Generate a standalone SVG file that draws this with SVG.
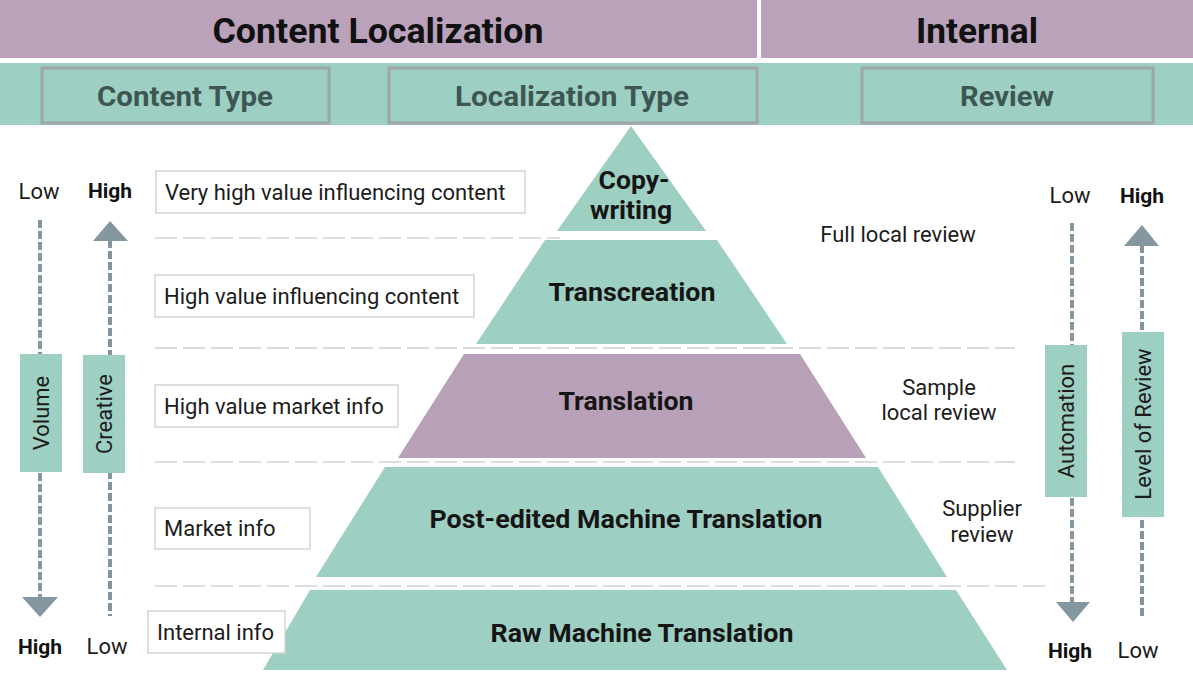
<svg xmlns="http://www.w3.org/2000/svg" width="1193" height="675" viewBox="0 0 1193 675">
<style>
.hdr{fill:#bba2bb}
.band{fill:#9dcfc2}
.hbox{fill:#9dcfc2;stroke:#9ea6a8;stroke-width:3}
.t1{font-family:Roboto,"Liberation Sans",sans-serif;font-weight:bold;font-size:35px;fill:#111;text-anchor:middle}
.t2{font-family:Roboto,"Liberation Sans",sans-serif;font-weight:bold;font-size:28px;fill:#3e5652;text-anchor:middle}
.teal{fill:#9dcfc2}
.purp{fill:#b9a0b9}
.pl{font-family:Roboto,"Liberation Sans",sans-serif;font-weight:bold;font-size:26.5px;fill:#151515;text-anchor:middle}
.lb{fill:#fff;stroke:#d4d4d4;stroke-width:1.5}
.lt{font-family:Roboto,"Liberation Sans",sans-serif;font-size:22px;fill:#1c1c1c}
.rt{font-family:Roboto,"Liberation Sans",sans-serif;font-size:22px;fill:#1c1c1c;text-anchor:middle}
.lh{font-family:Roboto,"Liberation Sans",sans-serif;font-size:22px;fill:#1c1c1c;text-anchor:middle}
.lhb{font-family:Roboto,"Liberation Sans",sans-serif;font-size:21px;font-weight:bold;fill:#111;text-anchor:middle}
.sep{stroke:#dcdcdc;stroke-width:2;stroke-dasharray:22 6;fill:none}
.axis{stroke:#8497a0;stroke-width:4;stroke-dasharray:8 3;fill:none}
.head{fill:#8497a0}
.vbox{fill:#9dcfc2}
.vt{font-family:Roboto,"Liberation Sans",sans-serif;font-size:22px;fill:#1c1c1c;text-anchor:middle}
</style>

<g id="header">
  <rect class="hdr" x="0" y="0" width="757" height="58"/>
  <rect class="hdr" x="761" y="0" width="432" height="58"/>
  <text class="t1" x="378" y="43" textLength="331" lengthAdjust="spacingAndGlyphs">Content Localization</text>
  <text class="t1" x="977" y="43" textLength="122" lengthAdjust="spacingAndGlyphs">Internal</text>
  <rect class="band" x="0" y="63" width="1193" height="62"/>
  <rect class="hbox" x="42" y="68" width="287" height="55"/>
  <rect class="hbox" x="389" y="68" width="368" height="55"/>
  <rect class="hbox" x="862" y="68" width="291" height="55"/>
  <text class="t2" x="185" y="106" textLength="176" lengthAdjust="spacingAndGlyphs">Content Type</text>
  <text class="t2" x="572" y="106" textLength="234" lengthAdjust="spacingAndGlyphs">Localization Type</text>
  <text class="t2" x="1007" y="106" textLength="94" lengthAdjust="spacingAndGlyphs">Review</text>
</g>

<g id="separators">
  <line class="sep" x1="155" y1="238" x2="560" y2="238"/>
  <line class="sep" x1="155" y1="348" x2="1015" y2="348"/>
  <line class="sep" x1="155" y1="462" x2="1015" y2="462"/>
  <line class="sep" x1="155" y1="586" x2="1050" y2="586"/>
</g>

<g id="copywriting">
  <polygon class="teal" points="631,126 706,231 557,231"/>
  <text class="pl" x="634" y="189">Copy-</text>
  <text class="pl" x="631" y="219">writing</text>
</g>
<g id="transcreation">
  <polygon class="teal" points="545,240 717,240 787,344 476,344"/>
  <text class="pl" x="632" y="301" textLength="167" lengthAdjust="spacingAndGlyphs">Transcreation</text>
</g>
<g id="translation">
  <polygon class="purp" points="464,354 800,354 866,458 398,458"/>
  <text class="pl" x="626" y="410" textLength="135" lengthAdjust="spacingAndGlyphs">Translation</text>
</g>
<g id="pemt">
  <polygon class="teal" points="385,467 878,467 947,577 316,577"/>
  <text class="pl" x="626" y="528" textLength="393" lengthAdjust="spacingAndGlyphs">Post-edited Machine Translation</text>
</g>
<g id="rawmt">
  <polygon class="teal" points="310,590 956,590 1007,670 263,670"/>
  <text class="pl" x="642" y="642" textLength="303" lengthAdjust="spacingAndGlyphs">Raw Machine Translation</text>
</g>

<g id="content-types">
  <rect class="lb" x="156" y="171" width="369" height="42"/>
  <text class="lt" x="165" y="200">Very high value influencing content</text>
  <rect class="lb" x="155" y="275" width="319" height="42"/>
  <text class="lt" x="164" y="304">High value influencing content</text>
  <rect class="lb" x="155" y="385" width="243" height="42"/>
  <text class="lt" x="164" y="414">High value market info</text>
  <rect class="lb" x="155" y="508" width="155" height="41"/>
  <text class="lt" x="164" y="536">Market info</text>
  <rect class="lb" x="148" y="611" width="137" height="42"/>
  <text class="lt" x="157" y="640">Internal info</text>
</g>

<g id="review-labels">
  <text class="rt" x="898" y="242">Full local review</text>
  <text class="rt" x="939" y="395">Sample</text>
  <text class="rt" x="939" y="420">local review</text>
  <text class="rt" x="982" y="516">Supplier</text>
  <text class="rt" x="982" y="542">review</text>
</g>

<g id="connectors">
  <line class="axis" x1="40" y1="220" x2="40" y2="598"/>
  <polygon class="head" points="22,597 58,597 40,617"/>
  <line class="axis" x1="110" y1="240" x2="110" y2="616"/>
  <polygon class="head" points="93,241 128,241 110,221"/>
  <line class="axis" x1="1072" y1="223" x2="1072" y2="603"/>
  <polygon class="head" points="1056,602 1090,602 1073,622"/>
  <line class="axis" x1="1142" y1="245" x2="1142" y2="618"/>
  <polygon class="head" points="1124,246 1159,246 1142,225"/>
</g>

<g id="volume">
  <text class="lh" x="39" y="199">Low</text>
  <rect class="vbox" x="20" y="354" width="42" height="118"/>
  <text class="vt" transform="translate(49,413) rotate(-90)" font-size="21">Volume</text>
  <text class="lhb" x="40" y="654">High</text>
</g>
<g id="creative">
  <text class="lhb" x="110" y="198">High</text>
  <rect class="vbox" x="83" y="355" width="42" height="118"/>
  <text class="vt" transform="translate(112,414) rotate(-90)">Creative</text>
  <text class="lh" x="107" y="654">Low</text>
</g>
<g id="automation">
  <text class="lh" x="1070" y="203">Low</text>
  <rect class="vbox" x="1045" y="345" width="42" height="152"/>
  <text class="vt" transform="translate(1074,421) rotate(-90)">Automation</text>
  <text class="lhb" x="1070" y="658">High</text>
</g>
<g id="level-of-review">
  <text class="lhb" x="1142" y="203">High</text>
  <rect class="vbox" x="1122" y="332" width="42" height="185"/>
  <text class="vt" transform="translate(1151,424) rotate(-90)">Level of Review</text>
  <text class="lh" x="1138" y="658">Low</text>
</g>
</svg>
